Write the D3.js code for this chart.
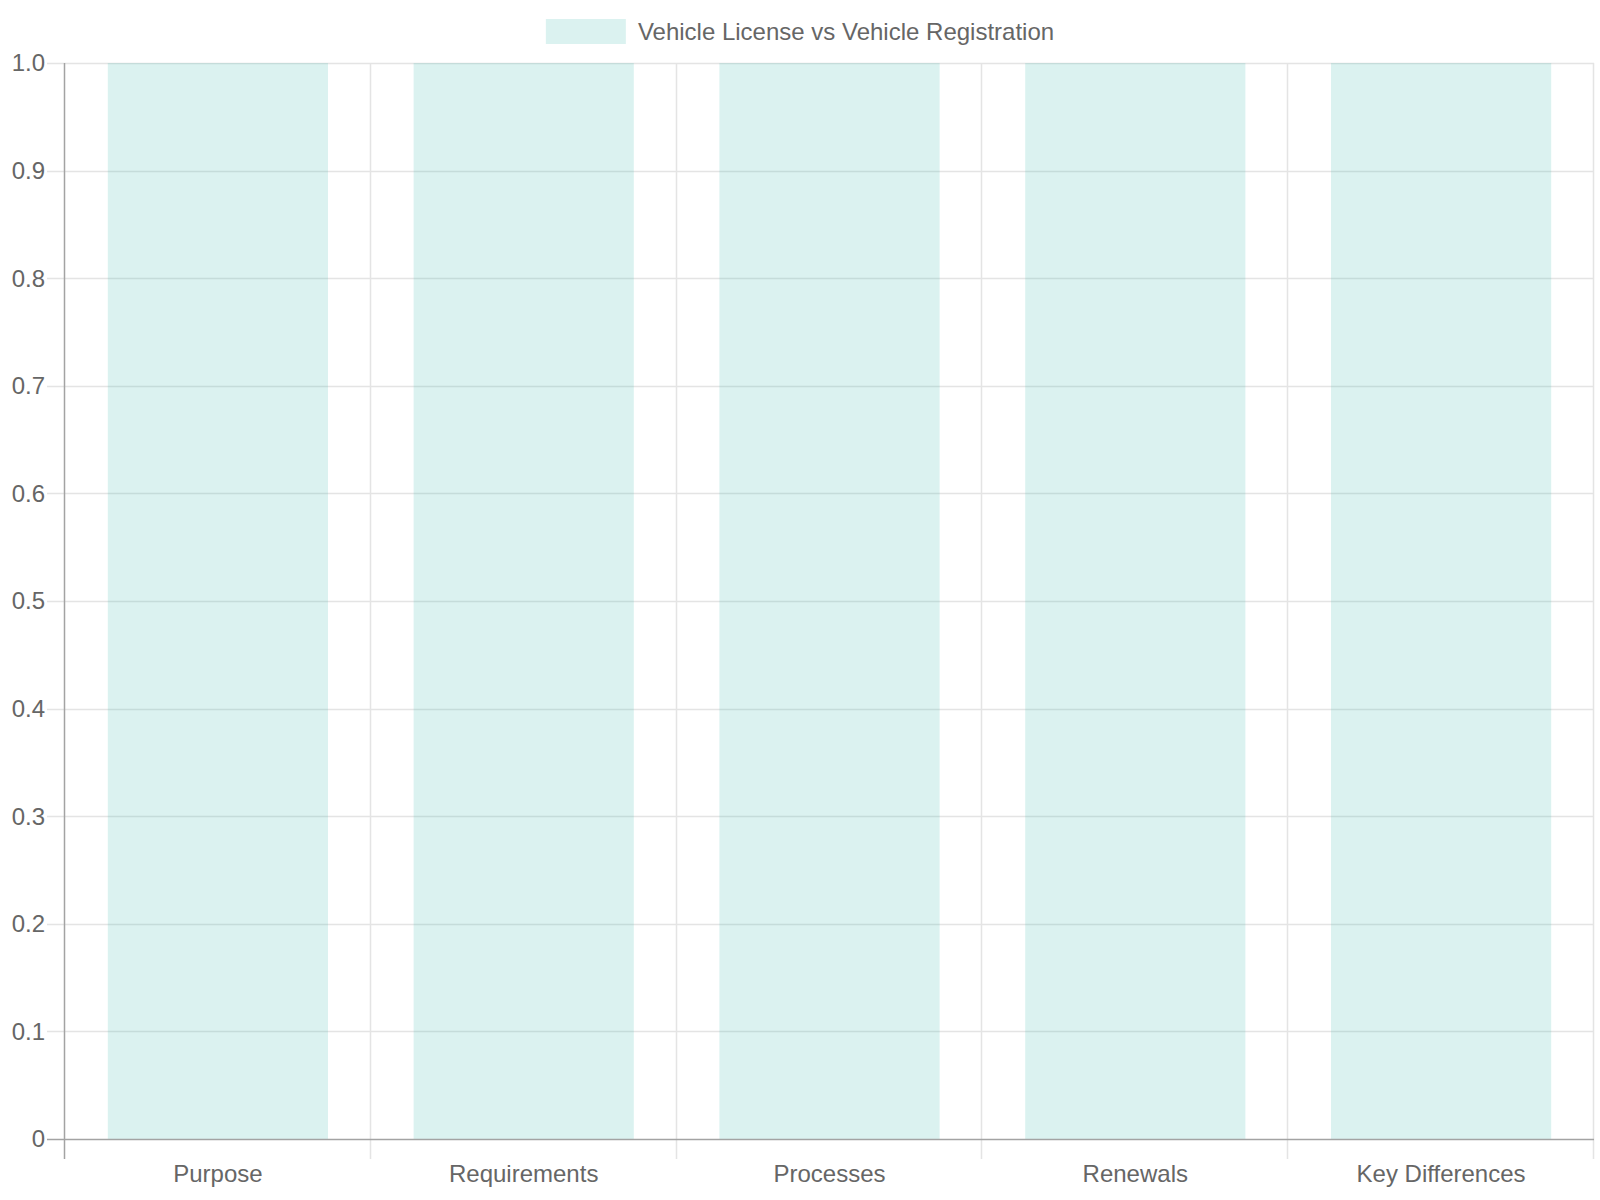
<!DOCTYPE html>
<html>

<head>
    <meta charset="utf-8">
    <script src="https://d3js.org/d3.v7.min.js" charset="utf-8"></script>
    <title>Vehicle License vs Vehicle Registration</title>
</head>

<body>
    <style>
        html,
        body,
        #chart {
            margin: 0px;
            padding: 0px;
            width: 100%;
            height: 100%;
            background: #fff;
            overflow: hidden;
        }
    </style>
    <div id="chart"></div>

    <script>
        // chart data
        var categories = ["Purpose", "Requirements", "Processes", "Renewals", "Key Differences"];
        var seriesName = "Vehicle License vs Vehicle Registration";
        var seriesValues = [1, 1, 1, 1, 1];
        var yTicks = [0, 0.1, 0.2, 0.3, 0.4, 0.5, 0.6, 0.7, 0.8, 0.9, 1.0];

        function myChart() {
            var width = 1600,
                height = 1200,
                margin = { top: 63, right: 6, bottom: 61, left: 65 };

            var svg = d3.select("#chart").append("svg")
                .attr("width", width)
                .attr("height", height)
                .style("font-family", "'Liberation Sans', Arial, sans-serif");

            var fill = "rgba(75, 192, 180, 0.2)",
                gridColor = "#e4e4e4",
                axisColor = "#a3a3a3",
                textColor = "#666";

            var x = d3.scaleBand()
                .domain(categories)
                .range([margin.left, width - margin.right])
                .paddingInner(0.28)
                .paddingOuter(0.14);

            var y = d3.scaleLinear()
                .domain([0, 1])
                .range([height - margin.bottom, margin.top]);

            var step = x.step();

            // horizontal grid + left tick marks
            svg.append("g").selectAll("line")
                .data(yTicks.slice(1))
                .enter().append("line")
                .attr("x1", margin.left - 18)
                .attr("x2", width - margin.right)
                .attr("y1", function (d) { return Math.round(y(d)) + 0.5; })
                .attr("y2", function (d) { return Math.round(y(d)) + 0.5; })
                .attr("stroke", gridColor)
                .attr("stroke-width", 1.5);

            // vertical grid at category boundaries
            var bounds = d3.range(categories.length + 1).map(function (i) { return margin.left + i * step; });
            svg.append("g").selectAll("line")
                .data(bounds.slice(1))
                .enter().append("line")
                .attr("x1", function (d) { return Math.round(d) - 0.5; })
                .attr("x2", function (d) { return Math.round(d) - 0.5; })
                .attr("y1", margin.top)
                .attr("y2", height - margin.bottom + 20)
                .attr("stroke", gridColor)
                .attr("stroke-width", 1.5);

            // bars (translucent, grid shows through)
            svg.append("g").selectAll("rect")
                .data(seriesValues)
                .enter().append("rect")
                .attr("x", function (d, i) { return x(categories[i]); })
                .attr("width", x.bandwidth())
                .attr("y", function (d) { return y(d); })
                .attr("height", function (d) { return y(0) - y(d); })
                .attr("fill", fill);

            // axis lines
            svg.append("line")
                .attr("x1", margin.left - 0.5).attr("x2", margin.left - 0.5)
                .attr("y1", margin.top).attr("y2", height - margin.bottom + 20)
                .attr("stroke", axisColor).attr("stroke-width", 1.5);
            svg.append("line")
                .attr("x1", margin.left - 18).attr("x2", width - margin.right)
                .attr("y1", y(0) + 0.5).attr("y2", y(0) + 0.5)
                .attr("stroke", axisColor).attr("stroke-width", 1.5);

            // y tick labels
            svg.append("g").selectAll("text")
                .data(yTicks)
                .enter().append("text")
                .attr("x", margin.left - 20)
                .attr("y", function (d) { return y(d); })
                .attr("dy", "0.35em")
                .attr("text-anchor", "end")
                .attr("fill", textColor)
                .style("font-size", "24px")
                .text(function (d) { return d === 0 ? "0" : d.toFixed(1); });

            // x tick labels
            svg.append("g").selectAll("text")
                .data(categories)
                .enter().append("text")
                .attr("x", function (d) { return x(d) + x.bandwidth() / 2; })
                .attr("y", height - margin.bottom + 43)
                .attr("text-anchor", "middle")
                .attr("fill", textColor)
                .style("font-size", "24px")
                .text(function (d) { return d; });

            // legend
            var legend = svg.append("g");
            var legendText = legend.append("text")
                .attr("y", 40)
                .attr("fill", textColor)
                .style("font-size", "24px")
                .text(seriesName);
            var tw = legendText.node().getComputedTextLength();
            var boxW = 80, gap = 12;
            var lx = width / 2 - (boxW + gap + tw) / 2;
            legend.append("rect")
                .attr("x", lx)
                .attr("y", 19)
                .attr("width", boxW)
                .attr("height", 25)
                .attr("fill", fill);
            legendText.attr("x", lx + boxW + gap);
        }

        myChart();
    </script>
</body>

</html>
